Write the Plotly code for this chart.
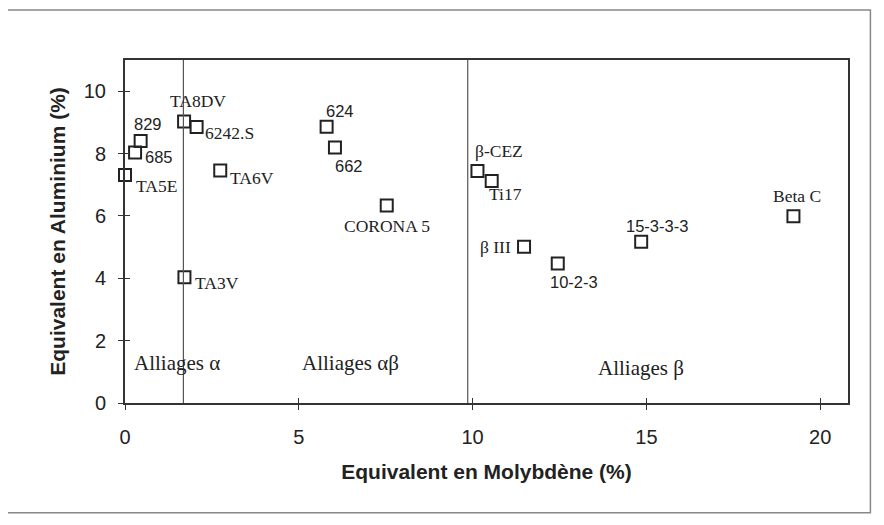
import plotly.graph_objects as go

# ---- data ----
alloys = ["TA5E", "685", "829", "TA8DV", "6242.S", "TA6V", "TA3V", "624", "662",
          "CORONA 5", "β-CEZ", "Ti17", "β III", "10-2-3", "15-3-3-3", "Beta C"]
mo_eq = [0.0, 0.29, 0.45, 1.70, 2.06, 2.74, 1.71, 5.80, 6.04,
         7.53, 10.14, 10.55, 11.48, 12.45, 14.85, 19.23]
al_eq = [7.31, 8.03, 8.40, 9.03, 8.85, 7.46, 4.03, 8.86, 8.19,
         6.33, 7.44, 7.12, 5.01, 4.47, 5.17, 5.99]
x_ticks = [0, 5, 10, 15, 20]
y_ticks = [0, 2, 4, 6, 8, 10]
boundaries = [1.68, 9.86]
regions = ["Alliages α", "Alliages αβ", "Alliages β"]
region_x = [1.50, 6.5, 14.85]
region_y = [1.29, 1.29, 1.13]

# ---- label styling (pixel offsets from marker, anchor, font family) ----
SERIF = "Liberation Serif, Times New Roman, serif"
SANS = "Liberation Sans, Arial, sans-serif"
label_style = {
    "TA5E": (9, -11, "left", SERIF),
    "685": (8, -4, "left", SANS),
    "829": (-9, 17, "left", SANS),
    "TA8DV": (14, 20, "center", SERIF),
    "6242.S": (6, -6, "left", SERIF),
    "TA6V": (8, -8, "left", SERIF),
    "TA3V": (9, -6, "left", SERIF),
    "624": (13, 16, "center", SANS),
    "662": (14, -18, "center", SANS),
    "CORONA 5": (0, -20, "center", SERIF),
    "β-CEZ": (22, 20, "center", SERIF),
    "Ti17": (14, -13, "center", SERIF),
    "β III": (-11, 0, "right", SERIF),
    "10-2-3": (16, -18, "center", SANS),
    "15-3-3-3": (16, 16, "center", SANS),
    "Beta C": (4, 20, "center", SERIF),
}

fig = go.Figure()
fig.add_trace(go.Scatter(
    x=mo_eq, y=al_eq, mode="markers",
    marker=dict(symbol="square-open", size=12, color="#222",
                line=dict(width=2, color="#222")),
    cliponaxis=False, showlegend=False, hoverinfo="text", text=alloys,
))

for name, xv, yv in zip(alloys, mo_eq, al_eq):
    dx, dy, anchor, fam = label_style[name]
    fig.add_annotation(x=xv, y=yv, text=name, showarrow=False,
                       xshift=dx, yshift=dy, xanchor=anchor, yanchor="middle",
                       font=dict(family=fam, size=17.5 if fam == SERIF else 16.5,
                                 color="#222"))

for bx in boundaries:
    fig.add_shape(type="line", x0=bx, x1=bx, y0=0, y1=11, xref="x", yref="y",
                  line=dict(color="#555", width=1.2))

for t, rx, ry in zip(regions, region_x, region_y):
    fig.add_annotation(x=rx, y=ry, text=t, showarrow=False, xanchor="center",
                       font=dict(family=SERIF, size=21, color="#222"))

# outer page frame
fig.add_shape(type="rect", xref="paper", yref="paper",
              x0=-0.163, x1=1.031, y0=-0.32, y1=1.146,
              line=dict(color="#888", width=1.5))

axis_common = dict(showline=True, linecolor="#333", linewidth=2, mirror=True,
                   showgrid=False, zeroline=False, ticks="outside", ticklen=5,
                   tickcolor="#333", tickwidth=1.2)

# The page body has an 8px default margin, so the figure is 8px smaller.
fig.update_layout(
    width=876, height=517,
    margin=dict(l=117, r=36, t=52, b=122),
    paper_bgcolor="white", plot_bgcolor="white",
    xaxis=dict(range=[0, 20.8], tickvals=x_ticks, **axis_common,
               ticklabelstandoff=10,
               tickfont=dict(family=SANS, size=20, color="#222"),
               title=dict(text="<b>Equivalent en Molybdène (%)</b>", standoff=17,
                          font=dict(family=SANS, size=21, color="#222"))),
    yaxis=dict(range=[0, 11], tickvals=y_ticks, **axis_common,
               ticklabelstandoff=8,
               tickfont=dict(family=SANS, size=20, color="#222"),
               title=dict(text="<b>Equivalent en Aluminium (%)</b>", standoff=12,
                          font=dict(family=SANS, size=21, color="#222"))),
    xaxis2=dict(range=[0, 20.8], tickvals=x_ticks, overlaying="x", side="bottom",
                ticks="inside", ticklen=5, tickcolor="#333", tickwidth=1.2,
                showticklabels=False, showgrid=False, zeroline=False, showline=False),
    yaxis2=dict(range=[0, 11], tickvals=y_ticks, overlaying="y", side="left",
                ticks="inside", ticklen=5, tickcolor="#333", tickwidth=1.2,
                showticklabels=False, showgrid=False, zeroline=False, showline=False),
)
# invisible trace to activate the overlay axes
fig.add_trace(go.Scatter(x=[None], y=[None], xaxis="x2", yaxis="y2",
                         showlegend=False, hoverinfo="skip"))

fig.write_html("out.html")
